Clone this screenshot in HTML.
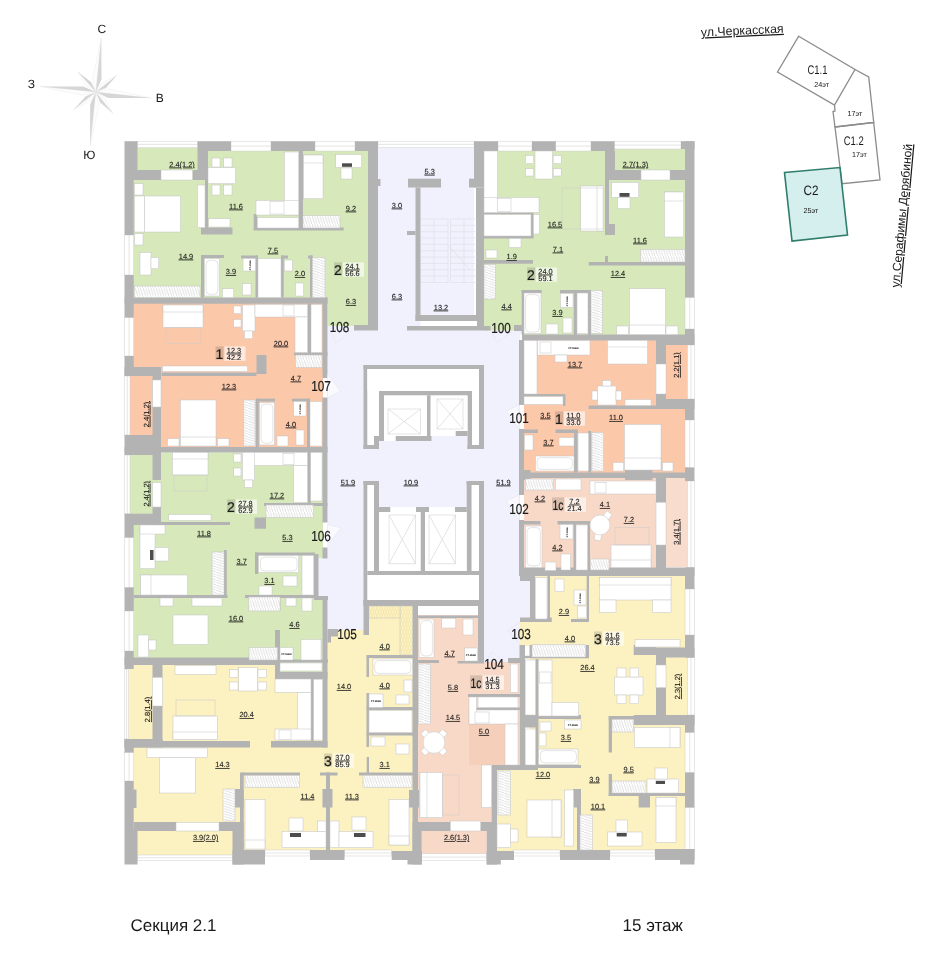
<!DOCTYPE html><html><head><meta charset="utf-8"><title>plan</title><style>
html,body{margin:0;padding:0;background:#fff;overflow:hidden}svg{display:block;filter:blur(.3px)}
text{font-family:"Liberation Sans",sans-serif;fill:#1a1a1a;text-rendering:geometricPrecision}
.w{fill:#b3b3b3}.f{fill:#fff;stroke:#c4c4c4;stroke-width:.5}.fn{fill:#fff}
.l{fill:none;stroke:#c9c9c9;stroke-width:.5}.win{fill:#fff;stroke:#cfcfcf;stroke-width:.5}
.t{font-size:7.4px;text-anchor:middle;text-decoration:underline;text-decoration-thickness:.45px;text-underline-offset:.7px;stroke:#1a1a1a;stroke-width:.1}.n{font-size:14px;text-anchor:middle;stroke:#1a1a1a;stroke-width:.2}.s{font-size:7.4px;text-anchor:middle;stroke:#1a1a1a;stroke-width:.1}.b{font-size:14px;text-anchor:middle;stroke:#1a1a1a;stroke-width:.2}
</style></head><body>
<svg width="931" height="960" viewBox="0 0 931 960">
<defs>
<pattern id="hv" width="2.6" height="8" patternUnits="userSpaceOnUse"><rect width="2.6" height="8" fill="#fff"/><path d="M0 0L2.6 8" stroke="#bdbdbd" stroke-width=".5"/></pattern>
<pattern id="hh" width="8" height="2.6" patternUnits="userSpaceOnUse"><rect width="8" height="2.6" fill="#fff"/><path d="M0 0L8 2.6" stroke="#bdbdbd" stroke-width=".5"/></pattern>
<pattern id="hy" width="2.6" height="8" patternUnits="userSpaceOnUse"><rect width="2.6" height="8" fill="#fdf4c8"/><path d="M0 0L2.6 8M2.6 0L0 8" stroke="#ecd88f" stroke-width=".45"/></pattern>
</defs>
<rect width="931" height="960" fill="#fff"/>
<g fill="#f0f1fc">
<rect x="378" y="147.5" width="96" height="182.5"/>
<rect x="327.5" y="326" width="192.5" height="336"/>
<rect x="327.5" y="615" width="38.5" height="15"/>
<rect x="484" y="326" width="39" height="8"/>
<rect x="519" y="576" width="11" height="47"/>
</g>
<g fill="#d7e9ba">
<rect x="130" y="147.5" width="238" height="155.5"/>
<rect x="327.5" y="297" width="40.5" height="29"/>
<rect x="128" y="452.5" width="195" height="212.5"/>
<rect x="275" y="630" width="52.5" height="45"/>
<rect x="484" y="147.5" width="202" height="183"/>
<rect x="523" y="330" width="163" height="6"/>
</g>
<g fill="#fbc8aa">
<rect x="128" y="303" width="195" height="145"/>
<rect x="524" y="340" width="164" height="133"/>
</g>
<g fill="#fbf1c1">
<rect x="128" y="665" width="147" height="191"/>
<rect x="275" y="678" width="138" height="178"/>
<rect x="327.5" y="630" width="85.5" height="50"/>
<rect x="368" y="606" width="45" height="26"/>
<rect x="530" y="575" width="158" height="277"/>
<rect x="520" y="622" width="11" height="24"/>
<rect x="497" y="770" width="34" height="82"/>
</g>
<g fill="#f8d8c6">
<rect x="418" y="615" width="60" height="48"/>
<rect x="418" y="662" width="74" height="161"/>
<rect x="421.7" y="829" width="65" height="26"/>
<rect x="470" y="662" width="49" height="104"/>
<rect x="524" y="477" width="133" height="95"/>
</g>
<g fill="#f8dccd">
<rect x="666" y="478" width="22" height="89"/>
</g>
<g fill="#f6cfbb">
<rect x="469" y="724" width="36" height="41"/>
</g>
<g fill="#f0f1fc">
<rect x="318" y="558" width="10" height="39"/>
</g>
<g class="win">
<rect x="124.5" y="235" width="9.2" height="40"/>
<rect x="124.5" y="317.5" width="9.2" height="38.5"/>
<rect x="124.5" y="376" width="5.5" height="59"/>
<rect x="124.5" y="455" width="5.5" height="59"/>
<rect x="124.5" y="537.5" width="9.2" height="50"/>
<rect x="124.5" y="611" width="9.2" height="40"/>
<rect x="124.5" y="669" width="4.2" height="70"/>
<rect x="124.5" y="752.5" width="9.2" height="28.5"/>
<rect x="137.5" y="141.2" width="60" height="6.3"/>
<rect x="231" y="141.2" width="40" height="9.8"/>
<rect x="315" y="141.2" width="40" height="9.8"/>
<rect x="378" y="141.2" width="96" height="6.3"/>
<rect x="498" y="141.2" width="34" height="9.8"/>
<rect x="555.7" y="141.2" width="35.3" height="9.8"/>
<rect x="614.5" y="141.2" width="66.5" height="7.8"/>
<rect x="685" y="297.5" width="9.5" height="31.5"/>
<rect x="687.5" y="345" width="7" height="54"/>
<rect x="685" y="420" width="9.5" height="47.5"/>
<rect x="687.5" y="481" width="7" height="86.5"/>
<rect x="685" y="589" width="9.5" height="46"/>
<rect x="687.5" y="657.5" width="7" height="57.5"/>
<rect x="685" y="732.5" width="9.5" height="40"/>
<rect x="685" y="807.5" width="9.5" height="42.5"/>
<rect x="137.5" y="855" width="95" height="5.5"/>
<rect x="265" y="850" width="45" height="6"/>
<rect x="344.5" y="850" width="47.2" height="6"/>
<rect x="421.7" y="853.7" width="65" height="6.8"/>
<rect x="513" y="850" width="47" height="6"/>
<rect x="610" y="850" width="45" height="6"/>
</g>
<g class="l">
<path d="M129.1 235V275"/>
<path d="M129.1 317.5V356"/>
<path d="M127.25 376V435"/>
<path d="M127.25 455V514"/>
<path d="M129.1 537.5V587.5"/>
<path d="M129.1 611V651"/>
<path d="M126.6 669V739"/>
<path d="M129.1 752.5V781"/>
<path d="M137.5 144.35H197.5"/>
<path d="M231 146.1H271"/>
<path d="M315 146.1H355"/>
<path d="M378 144.35H474"/>
<path d="M498 146.1H532"/>
<path d="M555.7 146.1H591"/>
<path d="M614.5 145.1H681"/>
<path d="M689.75 297.5V329"/>
<path d="M691 345V399"/>
<path d="M689.75 420V467.5"/>
<path d="M691 481V567.5"/>
<path d="M689.75 589V635"/>
<path d="M691 657.5V715"/>
<path d="M689.75 732.5V772.5"/>
<path d="M689.75 807.5V850"/>
<path d="M137.5 857.75H232.5"/>
<path d="M265 853H310"/>
<path d="M344.5 853H391.7"/>
<path d="M421.7 857.1H486.7"/>
<path d="M513 853H560"/>
<path d="M610 853H655"/>
</g>
<g class="w">
<rect x="124.5" y="141.2" width="13" height="28.8"/>
<rect x="124.5" y="170" width="36.5" height="10"/>
<rect x="124.5" y="180" width="9.2" height="55"/>
<rect x="124.5" y="275" width="9.2" height="42.5"/>
<rect x="124.5" y="356" width="9.2" height="20"/>
<rect x="124.5" y="367" width="36.5" height="9"/>
<rect x="124.5" y="435" width="36.5" height="20"/>
<rect x="124.5" y="513.7" width="36.5" height="11.3"/>
<rect x="124.5" y="525" width="9.2" height="12.5"/>
<rect x="124.5" y="587.5" width="9.2" height="23.5"/>
<rect x="124.5" y="651" width="9.2" height="18"/>
<rect x="124.5" y="739" width="38" height="8.5"/>
<rect x="124.5" y="739" width="9.2" height="13.5"/>
<rect x="124.5" y="781" width="9.2" height="49"/>
<rect x="133" y="789.5" width="3.5" height="18.5"/>
<rect x="124.5" y="830" width="13" height="34.5"/>
<rect x="197.5" y="141.2" width="33.5" height="9.8"/>
<rect x="197.5" y="151" width="10" height="29"/>
<rect x="192.5" y="170" width="15" height="10"/>
<rect x="271" y="141.2" width="44" height="9.8"/>
<rect x="355" y="141.2" width="23" height="9.8"/>
<rect x="474" y="141.2" width="24" height="9.8"/>
<rect x="532" y="141.2" width="23.7" height="9.8"/>
<rect x="591" y="141.2" width="23.5" height="9.8"/>
<rect x="605" y="151" width="10" height="29"/>
<rect x="681" y="141.2" width="13.5" height="7.8"/>
<rect x="685" y="141.2" width="9.5" height="156.3"/>
<rect x="685" y="329" width="9.5" height="16"/>
<rect x="685" y="399" width="9.5" height="21"/>
<rect x="685" y="467.5" width="9.5" height="13.5"/>
<rect x="685" y="567.5" width="9.5" height="21.5"/>
<rect x="685" y="635" width="9.5" height="22.5"/>
<rect x="685" y="715" width="9.5" height="17.5"/>
<rect x="685" y="772.5" width="9.5" height="35"/>
<rect x="685" y="849" width="9.5" height="11"/>
<rect x="232.5" y="850" width="32.5" height="14.5"/>
<rect x="232.5" y="831" width="11.2" height="33.5"/>
<rect x="310" y="850" width="34.5" height="10"/>
<rect x="391.7" y="851" width="30" height="9"/>
<rect x="407.5" y="851" width="14.2" height="13.5"/>
<rect x="412.5" y="822" width="9.2" height="42.5"/>
<rect x="486.7" y="851" width="27.3" height="9"/>
<rect x="486.7" y="822" width="10.3" height="42.5"/>
<rect x="486.7" y="860" width="14.1" height="4.5"/>
<rect x="560" y="850" width="50" height="10"/>
<rect x="655" y="849" width="39.5" height="11"/>
<rect x="298.7" y="151" width="4.3" height="78"/>
<rect x="253.7" y="227.5" width="90" height="3"/>
<rect x="253.7" y="214" width="3.3" height="16"/>
<rect x="201" y="227.5" width="31.5" height="7"/>
<rect x="205" y="151" width="3" height="77"/>
<rect x="201" y="255" width="3" height="42.5"/>
<rect x="201" y="255" width="23" height="3"/>
<rect x="241" y="255.5" width="16.5" height="3"/>
<rect x="255.5" y="255.5" width="2.5" height="42"/>
<rect x="281" y="255.5" width="2.7" height="42"/>
<rect x="281" y="255.5" width="7" height="3"/>
<rect x="308" y="255.5" width="4.5" height="3"/>
<rect x="310" y="255.5" width="2.5" height="42"/>
<rect x="124.5" y="297.5" width="203" height="6.2"/>
<rect x="368" y="151" width="10" height="179"/>
<rect x="354" y="325" width="24" height="5.5"/>
<rect x="378" y="179" width="2.5" height="7"/>
<rect x="322.5" y="297.5" width="5" height="28.5"/>
<rect x="408" y="178.7" width="33" height="8.8"/>
<rect x="415.5" y="187.5" width="5" height="133.5"/>
<rect x="407" y="231" width="8.5" height="4"/>
<rect x="415.5" y="315" width="62.5" height="6"/>
<rect x="407" y="326" width="83.5" height="4.5"/>
<rect x="474" y="151" width="10" height="36.5"/>
<rect x="476" y="187.5" width="8" height="142.5"/>
<rect x="469" y="178.7" width="7" height="8.8"/>
<rect x="483" y="212.5" width="50" height="2"/>
<rect x="531" y="212.5" width="2.5" height="25.5"/>
<rect x="483" y="236" width="50.5" height="2.5"/>
<rect x="483" y="260" width="50" height="3.7"/>
<rect x="521.7" y="290" width="2.3" height="45"/>
<rect x="521.7" y="290" width="20" height="3"/>
<rect x="514" y="325" width="9" height="6"/>
<rect x="522" y="334.5" width="172.5" height="6"/>
<rect x="560" y="290" width="31" height="3"/>
<rect x="573.7" y="291" width="3.3" height="44"/>
<rect x="588" y="290" width="3" height="45"/>
<rect x="588.7" y="262" width="96.3" height="3.5"/>
<rect x="605" y="256" width="3" height="6.5"/>
<rect x="605" y="151" width="4" height="84"/>
<rect x="605" y="224" width="10" height="11"/>
<rect x="615" y="170" width="26" height="10"/>
<rect x="670" y="170" width="15" height="10"/>
<rect x="124.5" y="447" width="203" height="5.5"/>
<rect x="152.5" y="376" width="8.5" height="74"/>
<rect x="161.6" y="372.6" width="94.9" height="3.4"/>
<rect x="256.5" y="355" width="10" height="19"/>
<rect x="322.5" y="326" width="5" height="52"/>
<rect x="322.5" y="397.5" width="5" height="125"/>
<rect x="322.5" y="547.5" width="5" height="11"/>
<rect x="314" y="596" width="14" height="4"/>
<rect x="256" y="398.7" width="2.7" height="48.8"/>
<rect x="256" y="398.7" width="19" height="2.8"/>
<rect x="307" y="398.7" width="3" height="48.8"/>
<rect x="292" y="398.7" width="18" height="2.8"/>
<rect x="308" y="303.7" width="3" height="49.3"/>
<rect x="294" y="352.5" width="33.5" height="3"/>
<rect x="152.5" y="452" width="8.5" height="28"/>
<rect x="152.5" y="507" width="8.5" height="18"/>
<rect x="140" y="522" width="90" height="3"/>
<rect x="307.5" y="452" width="3.2" height="52"/>
<rect x="264" y="503" width="63.5" height="3"/>
<rect x="254.5" y="517.5" width="11.5" height="11.2"/>
<rect x="255" y="552.5" width="60" height="3"/>
<rect x="255" y="552.5" width="3" height="21.5"/>
<rect x="314" y="554" width="4.5" height="44"/>
<rect x="224" y="550" width="2.7" height="48"/>
<rect x="133.7" y="595" width="93.8" height="3"/>
<rect x="245" y="595" width="71" height="3"/>
<rect x="322.5" y="600" width="5" height="79"/>
<rect x="275" y="630" width="5" height="49"/>
<rect x="275" y="672" width="52.5" height="7"/>
<rect x="124.5" y="657.5" width="155.5" height="7.5"/>
<rect x="327.5" y="630" width="3.5" height="12.5"/>
<rect x="328" y="629" width="10" height="7.5"/>
<rect x="277" y="659.5" width="51" height="3"/>
<rect x="278.3" y="598" width="2" height="13"/>
<rect x="363.5" y="365" width="120.5" height="4"/>
<rect x="363.5" y="365" width="4" height="84"/>
<rect x="479" y="365" width="5" height="84"/>
<rect x="363.5" y="445" width="15.5" height="4"/>
<rect x="374" y="436" width="5" height="13"/>
<rect x="467.5" y="445" width="16.5" height="4"/>
<rect x="379" y="391" width="93" height="4.5"/>
<rect x="379" y="391" width="5" height="50"/>
<rect x="467.5" y="391" width="4.5" height="58"/>
<rect x="426" y="395.5" width="5.5" height="45.5"/>
<rect x="379" y="369" width="3" height="22"/>
<rect x="395.5" y="436" width="35" height="5"/>
<rect x="455.5" y="431" width="12" height="5"/>
<rect x="363.5" y="481" width="15.5" height="4"/>
<rect x="363.5" y="481" width="4" height="125"/>
<rect x="374" y="481" width="5" height="91.5"/>
<rect x="466.7" y="481" width="17.3" height="4"/>
<rect x="466.7" y="481" width="5" height="94"/>
<rect x="479" y="481" width="5" height="181.5"/>
<rect x="379" y="507" width="11.5" height="5"/>
<rect x="416" y="507" width="13" height="5"/>
<rect x="420.5" y="507" width="4.5" height="64"/>
<rect x="455" y="507" width="11.7" height="5"/>
<rect x="367.5" y="571" width="113" height="4"/>
<rect x="363.5" y="600" width="120.5" height="6"/>
<rect x="363.5" y="600" width="5.5" height="35"/>
<rect x="519" y="340" width="5" height="65"/>
<rect x="519" y="429" width="5" height="66"/>
<rect x="519" y="520" width="5" height="56"/>
<rect x="524" y="470" width="6.5" height="10"/>
<rect x="524" y="472.5" width="161" height="5.5"/>
<rect x="625" y="470" width="27.5" height="10"/>
<rect x="524" y="429.5" width="14" height="3.5"/>
<rect x="555.5" y="429.5" width="22.5" height="3.5"/>
<rect x="574" y="431" width="3.5" height="41.5"/>
<rect x="588" y="431" width="3" height="41.5"/>
<rect x="588.7" y="405.5" width="96.3" height="3.5"/>
<rect x="656" y="340" width="10" height="69"/>
<rect x="656" y="340" width="38.5" height="5"/>
<rect x="656" y="399" width="38.5" height="10"/>
<rect x="524" y="394" width="41" height="2.5"/>
<rect x="563" y="394" width="2.5" height="12"/>
<rect x="524" y="521" width="16.5" height="3.5"/>
<rect x="557.5" y="521" width="32.5" height="3.5"/>
<rect x="573.5" y="522" width="2.5" height="49"/>
<rect x="587.5" y="522" width="2.5" height="49"/>
<rect x="656" y="478" width="10" height="24.5"/>
<rect x="656" y="545" width="10" height="26"/>
<rect x="520.5" y="567.5" width="174" height="8.5"/>
<rect x="530" y="576" width="5" height="46"/>
<rect x="547.5" y="576" width="2.5" height="46"/>
<rect x="520" y="617.5" width="31.7" height="4.5"/>
<rect x="571" y="619" width="18" height="3"/>
<rect x="586.7" y="576" width="2.3" height="46"/>
<rect x="585.8" y="645" width="3.2" height="13"/>
<rect x="525" y="655.8" width="64" height="2.5"/>
<rect x="519.5" y="645" width="5.5" height="125"/>
<rect x="508" y="658" width="12" height="5"/>
<rect x="529.5" y="645" width="2.5" height="12"/>
<rect x="520" y="571" width="10" height="10"/>
<rect x="535.5" y="659" width="3" height="109"/>
<rect x="535.5" y="715" width="45.5" height="4"/>
<rect x="524" y="715" width="13" height="12.5"/>
<rect x="535.5" y="765" width="45.5" height="3"/>
<rect x="491.7" y="765" width="46.3" height="5"/>
<rect x="577" y="789" width="4" height="66"/>
<rect x="573" y="789" width="8" height="18.5"/>
<rect x="608.7" y="716" width="3.3" height="36.5"/>
<rect x="608.7" y="774" width="3.3" height="22"/>
<rect x="680" y="860" width="14.5" height="4.5"/>
<rect x="608.7" y="716" width="26.3" height="3.5"/>
<rect x="608.7" y="793" width="76.3" height="3"/>
<rect x="638.7" y="793" width="11.3" height="14.5"/>
<rect x="633.7" y="645" width="22.3" height="10"/>
<rect x="656" y="647.5" width="38.5" height="10"/>
<rect x="656" y="655" width="10" height="10"/>
<rect x="656" y="687.5" width="10" height="37.5"/>
<rect x="633.7" y="715" width="60.8" height="10"/>
<rect x="412.5" y="606" width="5.5" height="249"/>
<rect x="418" y="615.5" width="60" height="2.5"/>
<rect x="409" y="790" width="10" height="17.5"/>
<rect x="478" y="606" width="6" height="56.5"/>
<rect x="418" y="660" width="21" height="3"/>
<rect x="457.5" y="661" width="26.5" height="2.5"/>
<rect x="468" y="694" width="52.5" height="3"/>
<rect x="476" y="707.5" width="44.5" height="2.5"/>
<rect x="491.7" y="765" width="5.3" height="90"/>
<rect x="489" y="790" width="8" height="17.5"/>
<rect x="418" y="822" width="32.5" height="9"/>
<rect x="480.5" y="822" width="16.5" height="9"/>
<rect x="366.7" y="655" width="46.3" height="3"/>
<rect x="366.5" y="655" width="2.5" height="22"/>
<rect x="366.5" y="693" width="2.5" height="54"/>
<rect x="366.7" y="707" width="46.3" height="3"/>
<rect x="366.7" y="732.5" width="46.3" height="3"/>
<rect x="359" y="772.5" width="54" height="3"/>
<rect x="366.7" y="757" width="2.3" height="18"/>
<rect x="152.5" y="665" width="10" height="12.5"/>
<rect x="152.5" y="706" width="10" height="36.5"/>
<rect x="124.5" y="741" width="125.5" height="6.5"/>
<rect x="271" y="741" width="56.5" height="6.5"/>
<rect x="322.5" y="679" width="5" height="68.5"/>
<rect x="311" y="679" width="2.7" height="62"/>
<rect x="133.7" y="822" width="42.3" height="9"/>
<rect x="219" y="822" width="24.7" height="9"/>
<rect x="235" y="789" width="8.7" height="18.5"/>
<rect x="240" y="772.5" width="3.7" height="82.5"/>
<rect x="242.5" y="772.5" width="57.5" height="3"/>
<rect x="326" y="772.5" width="4" height="82.5"/>
<rect x="322.5" y="789" width="10" height="18.5"/>
<rect x="320" y="772.5" width="17.5" height="3"/>
</g>
<g class="l" style="stroke:#d9d9e3">
<path d="M420.5 219H448M450.5 219H477"/>
<path d="M420.5 225.35H448M450.5 225.35H477"/>
<path d="M420.5 231.7H448M450.5 231.7H477"/>
<path d="M420.5 238.05H448M450.5 238.05H477"/>
<path d="M420.5 244.4H448M450.5 244.4H477"/>
<path d="M420.5 250.75H448M450.5 250.75H477"/>
<path d="M420.5 257.1H448M450.5 257.1H477"/>
<path d="M420.5 263.45H448M450.5 263.45H477"/>
<path d="M420.5 269.8H448M450.5 269.8H477"/>
<path d="M420.5 276.15H448M450.5 276.15H477"/>
<path d="M420.5 282.5H448M450.5 282.5H477"/>
<path d="M434 219V282.5M448 219V282.5M450.5 219V282.5M464 219V282.5M448 245L470 270"/>
</g>
<rect class="fn" x="420.5" y="321" width="56.5" height="5"/>
<g class="fn">
<rect x="367.5" y="369" width="111.5" height="22"/>
<rect x="367.5" y="369" width="11.5" height="67"/>
<rect x="367.5" y="436" width="6.5" height="9"/>
<rect x="472" y="369" width="7" height="76"/>
<rect x="384" y="395.5" width="43" height="40.5"/>
<rect x="430.5" y="395.5" width="37" height="35.5"/>
<rect x="384" y="436" width="11.5" height="5"/>
<rect x="430.5" y="431" width="25" height="5"/>
<rect x="367.5" y="485" width="6.5" height="86"/>
<rect x="471.7" y="485" width="7.3" height="86"/>
<rect x="379" y="512" width="41.5" height="59"/>
<rect x="425" y="512" width="41.7" height="59"/>
<rect x="390.5" y="507" width="25.5" height="5"/>
<rect x="429" y="507" width="26" height="5"/>
<rect x="367.5" y="575" width="111.5" height="25"/>
<rect x="418" y="606" width="60" height="9"/>
</g>
<g class="l" stroke="#bcbcbc">
<path d="M388 409H420.5V434H388ZM388 409L420.5 434M420.5 409L388 434"/>
<path d="M437 399H463V429H437ZM437 399L463 429M463 399L437 429"/>
<path d="M389 515H415.5V563.7H389ZM389 515L415.5 563.7M415.5 515L389 563.7"/>
<path d="M429 515H455.5V563.7H429ZM429 515L455.5 563.7M455.5 515L429 563.7"/>
</g>
<rect x="134.5" y="286" width="65.5" height="11.5" fill="url(#hv)" stroke="#c4c4c4" stroke-width=".5"/>
<rect x="303" y="215.5" width="37" height="12.5" fill="url(#hv)" stroke="#c4c4c4" stroke-width=".5"/>
<rect x="312.5" y="257.5" width="12.5" height="40" fill="url(#hh)" stroke="#c4c4c4" stroke-width=".5"/>
<rect x="484" y="264.5" width="11.5" height="34.5" fill="url(#hh)" stroke="#c4c4c4" stroke-width=".5"/>
<rect x="591" y="290.5" width="11.5" height="43.2" fill="url(#hh)" stroke="#c4c4c4" stroke-width=".5"/>
<rect x="640.7" y="249.5" width="44.3" height="12.5" fill="url(#hv)" stroke="#c4c4c4" stroke-width=".5"/>
<rect x="295.5" y="355" width="26.5" height="12.5" fill="url(#hv)" stroke="#c4c4c4" stroke-width=".5"/>
<rect x="243.7" y="400" width="11.3" height="46" fill="url(#hh)" stroke="#c4c4c4" stroke-width=".5"/>
<rect x="266" y="505" width="47.7" height="12.5" fill="url(#hv)" stroke="#c4c4c4" stroke-width=".5"/>
<rect x="212" y="552" width="12" height="43" fill="url(#hh)" stroke="#c4c4c4" stroke-width=".5"/>
<rect x="248.7" y="597" width="31.3" height="14" fill="url(#hv)" stroke="#c4c4c4" stroke-width=".5"/>
<rect x="249" y="647.5" width="28.5" height="12.5" fill="url(#hv)" stroke="#c4c4c4" stroke-width=".5"/>
<rect x="592" y="432.5" width="11.7" height="38.5" fill="url(#hh)" stroke="#c4c4c4" stroke-width=".5"/>
<rect x="525.5" y="479" width="27.5" height="11" fill="url(#hv)" stroke="#c4c4c4" stroke-width=".5"/>
<rect x="590.5" y="559" width="18.5" height="11" fill="url(#hv)" stroke="#c4c4c4" stroke-width=".5"/>
<rect x="245" y="775.5" width="54.5" height="12" fill="url(#hv)" stroke="#c4c4c4" stroke-width=".5"/>
<rect x="223" y="789" width="12" height="32" fill="url(#hh)" stroke="#c4c4c4" stroke-width=".5"/>
<rect x="363" y="775.5" width="49" height="12" fill="url(#hv)" stroke="#c4c4c4" stroke-width=".5"/>
<rect x="418.5" y="664" width="12" height="60" fill="url(#hh)" stroke="#c4c4c4" stroke-width=".5"/>
<rect x="532" y="644.5" width="53.5" height="12.5" fill="url(#hv)" stroke="#c4c4c4" stroke-width=".5"/>
<rect x="612" y="719.5" width="21.7" height="12.5" fill="url(#hv)" stroke="#c4c4c4" stroke-width=".5"/>
<rect x="612" y="781" width="34" height="12" fill="url(#hv)" stroke="#c4c4c4" stroke-width=".5"/>
<rect x="580" y="815" width="12.5" height="35" fill="url(#hh)" stroke="#c4c4c4" stroke-width=".5"/>
<rect x="498" y="771" width="12.5" height="44" fill="url(#hh)" stroke="#c4c4c4" stroke-width=".5"/>
<rect x="400" y="606" width="12.5" height="49" fill="url(#hy)" stroke="#c4c4c4" stroke-width=".5"/>
<rect x="369" y="606" width="31" height="12" fill="url(#hy)" stroke="#c4c4c4" stroke-width=".5"/>
<g class="f">
<rect x="161" y="170" width="31.5" height="10"/>
<rect x="144.5" y="196" width="36" height="36"/>
<rect x="134.5" y="196" width="10" height="36"/>
<rect x="134.5" y="183.7" width="8.5" height="11.3"/>
<rect x="134.5" y="233.7" width="8.5" height="11.3"/>
<rect x="140" y="252.5" width="11" height="22.5"/>
<rect x="151" y="257.5" width="7.7" height="11.2"/>
<rect x="197.5" y="185" width="7.5" height="42.5"/>
<rect x="208" y="167.5" width="27.5" height="16.2"/>
<rect x="212" y="158" width="8" height="9"/>
<rect x="223.7" y="158" width="8.3" height="9"/>
<rect x="212" y="185" width="8" height="10"/>
<rect x="223.7" y="185" width="8.3" height="10"/>
<rect x="208.7" y="218.7" width="21.3" height="8.3"/>
<rect x="284.5" y="152" width="14.2" height="63"/>
<rect x="256" y="200.5" width="42.7" height="14.5"/>
<rect x="257.5" y="217.5" width="41.2" height="10.5"/>
<rect x="270" y="201.5" width="14" height="12.5"/>
<rect x="303.7" y="155" width="19.3" height="43.7"/>
<rect x="303.7" y="155" width="19.3" height="8"/>
<rect x="335.7" y="154.5" width="26" height="13"/>
<rect x="341" y="168" width="11" height="11"/>
<rect x="204.5" y="258.7" width="15" height="37.3"/>
<rect x="222.5" y="288.7" width="11.2" height="8.8"/>
<rect x="242.5" y="283.7" width="8.5" height="11.3"/>
<rect x="243" y="258.5" width="12.5" height="12.5"/>
<rect x="284.5" y="260" width="8" height="11"/>
<rect x="295.5" y="283" width="8.2" height="13"/>
<rect x="258" y="258.5" width="23" height="39"/>
<rect x="163" y="305" width="40" height="22.5"/>
<rect x="163" y="305" width="40" height="7"/>
<rect x="242.5" y="305" width="12.5" height="26"/>
<rect x="233.7" y="306" width="7.3" height="7.7"/>
<rect x="233.7" y="319.5" width="7.3" height="7.5"/>
<rect x="244.5" y="331" width="8" height="7.7"/>
<rect x="255" y="304.5" width="52.5" height="12.5"/>
<rect x="295" y="317" width="12.5" height="35.5"/>
<rect x="311" y="304.5" width="11" height="48"/>
<rect x="162.5" y="366" width="85" height="5.5"/>
<rect x="283" y="305" width="11" height="11"/>
<rect x="180.5" y="400" width="35.5" height="46"/>
<rect x="180.5" y="437" width="35.5" height="9"/>
<rect x="167.5" y="438.7" width="11.5" height="7.3"/>
<rect x="217.5" y="438.7" width="11.5" height="7.3"/>
<rect x="259.5" y="402.5" width="15" height="42.5"/>
<rect x="293.7" y="401.5" width="12.3" height="14.5"/>
<rect x="310" y="401.5" width="12" height="44.5"/>
<rect x="277" y="436" width="11" height="10"/>
<rect x="296" y="430" width="8" height="15"/>
<rect x="152.5" y="380" width="8.5" height="27"/>
<rect x="172.5" y="452.5" width="35.5" height="22.5"/>
<rect x="172.5" y="452.5" width="35.5" height="6.5"/>
<rect x="242.5" y="452.5" width="65" height="13"/>
<rect x="242.5" y="452.5" width="12" height="27.5"/>
<rect x="244.5" y="480" width="8" height="7.5"/>
<rect x="233.7" y="454" width="7.3" height="8"/>
<rect x="233.7" y="468" width="7.3" height="8"/>
<rect x="293.7" y="465.5" width="13.8" height="37"/>
<rect x="310.7" y="452.5" width="11.3" height="48.5"/>
<rect x="283" y="453.5" width="11" height="11"/>
<rect x="168.7" y="514.5" width="42.3" height="6"/>
<rect x="152.5" y="482.5" width="8.5" height="24.5"/>
<rect x="140" y="525" width="15" height="43.7"/>
<rect x="140" y="525" width="25" height="9"/>
<rect x="155" y="547.5" width="13.7" height="13.5"/>
<rect x="140.7" y="575" width="46.8" height="20"/>
<rect x="140.7" y="575" width="10.3" height="20"/>
<rect x="258.7" y="555.5" width="40" height="17"/>
<rect x="302" y="555.5" width="11.7" height="39.5"/>
<rect x="283" y="576" width="14" height="10"/>
<rect x="259" y="586" width="13" height="9"/>
<rect x="173" y="615" width="35" height="29.5"/>
<rect x="160" y="598" width="13" height="8"/>
<rect x="192" y="598" width="30" height="8"/>
<rect x="138" y="635" width="10.7" height="22"/>
<rect x="148.7" y="640" width="7.3" height="10"/>
<rect x="301" y="639.5" width="20" height="20.5"/>
<rect x="280" y="647.5" width="13" height="12.5"/>
<rect x="280" y="663" width="42" height="8"/>
<rect x="286" y="598" width="10" height="8"/>
<rect x="302" y="598" width="10" height="13"/>
<rect x="484" y="151" width="13.5" height="61.5"/>
<rect x="484" y="197.5" width="55" height="15"/>
<rect x="484" y="214.5" width="47" height="21.5"/>
<rect x="533.5" y="214.5" width="6" height="19.5"/>
<rect x="497.5" y="198.5" width="13.5" height="13"/>
<rect x="535" y="151" width="17.5" height="28"/>
<rect x="525.5" y="155.5" width="8.2" height="8.2"/>
<rect x="525.5" y="168.7" width="8.2" height="7.3"/>
<rect x="553.2" y="155.5" width="8" height="8.2"/>
<rect x="553.2" y="168.7" width="8" height="7.3"/>
<rect x="580.7" y="186" width="23" height="45"/>
<rect x="597" y="186" width="6.7" height="45"/>
<rect x="611.7" y="182.5" width="27" height="15"/>
<rect x="617.5" y="197.5" width="12.5" height="11.2"/>
<rect x="664.5" y="192" width="19.2" height="45"/>
<rect x="664.5" y="192" width="19.2" height="9"/>
<rect x="641" y="170" width="29" height="10"/>
<rect x="629.5" y="288.7" width="36" height="45.8"/>
<rect x="629.5" y="325" width="36" height="9.5"/>
<rect x="616.7" y="326" width="12" height="8.5"/>
<rect x="666" y="326" width="12" height="8.5"/>
<rect x="524" y="293" width="17" height="40.7"/>
<rect x="560.5" y="293.7" width="12.5" height="13.8"/>
<rect x="577" y="293" width="11" height="40.7"/>
<rect x="509" y="238.5" width="12" height="9"/>
<rect x="486" y="250" width="11" height="8"/>
<rect x="546" y="324" width="12" height="10"/>
<rect x="563" y="318" width="9" height="15"/>
<rect x="524" y="340.5" width="13" height="53.5"/>
<rect x="537.5" y="340.5" width="52.5" height="14.5"/>
<rect x="540" y="342" width="11" height="11"/>
<rect x="555" y="355" width="12" height="7"/>
<rect x="524" y="396.5" width="39" height="8"/>
<rect x="607.5" y="340.5" width="40" height="23.5"/>
<rect x="607.5" y="340.5" width="40" height="6.5"/>
<rect x="597.5" y="386" width="18.5" height="19"/>
<rect x="592" y="391" width="5.5" height="9"/>
<rect x="616" y="391" width="5.5" height="9"/>
<rect x="602.5" y="380.5" width="8.5" height="5.5"/>
<rect x="625" y="399.5" width="26" height="6"/>
<rect x="624.5" y="424.5" width="36.5" height="45.5"/>
<rect x="624.5" y="458" width="36.5" height="12"/>
<rect x="613" y="462.5" width="10.7" height="8.5"/>
<rect x="662.5" y="462.5" width="10.5" height="8.5"/>
<rect x="578" y="433" width="10.7" height="38"/>
<rect x="535.5" y="456" width="38.5" height="15"/>
<rect x="524.5" y="435" width="8.5" height="15"/>
<rect x="559" y="437.5" width="15" height="8.5"/>
<rect x="656" y="364" width="10" height="30"/>
<rect x="555.5" y="479" width="25.5" height="11"/>
<rect x="590" y="481" width="66" height="13"/>
<rect x="595" y="482.5" width="11" height="10.5"/>
<rect x="525.5" y="526" width="16.5" height="41.5"/>
<rect x="560" y="524.5" width="13" height="14.5"/>
<rect x="576" y="525" width="11.5" height="45"/>
<rect x="561" y="554" width="9.5" height="16"/>
<rect x="545" y="562" width="11" height="8.5"/>
<rect x="611" y="545" width="40" height="22.5"/>
<rect x="611" y="560" width="40" height="7.5"/>
<rect x="656" y="502.5" width="10" height="42.5"/>
<rect x="535.5" y="577.5" width="11.5" height="41.5"/>
<rect x="555" y="579" width="9" height="12.7"/>
<rect x="574" y="590" width="12" height="15"/>
<rect x="577.5" y="606" width="9.2" height="12"/>
<rect x="599.5" y="577.5" width="71.5" height="22.5"/>
<rect x="599.5" y="577.5" width="71.5" height="7.5"/>
<rect x="599.5" y="600" width="16.5" height="12.5"/>
<rect x="652.5" y="600" width="18.5" height="12.5"/>
<rect x="635" y="639.5" width="45" height="7.5"/>
<rect x="614.5" y="677" width="28.5" height="18"/>
<rect x="617" y="668" width="9" height="9"/>
<rect x="630" y="668" width="8.7" height="9"/>
<rect x="617" y="695" width="9" height="8.7"/>
<rect x="630" y="695" width="8.7" height="8.7"/>
<rect x="525.5" y="660" width="10" height="55"/>
<rect x="538.5" y="660" width="13.5" height="56"/>
<rect x="552" y="702.5" width="26.7" height="13.5"/>
<rect x="539.5" y="672" width="11.5" height="11"/>
<rect x="525.5" y="729" width="10" height="36"/>
<rect x="538.7" y="749" width="39.3" height="15.5"/>
<rect x="564.5" y="720" width="16.5" height="9"/>
<rect x="540" y="722" width="11" height="9"/>
<rect x="539" y="733" width="7" height="13"/>
<rect x="634.5" y="727.5" width="45.5" height="20"/>
<rect x="670" y="727.5" width="10" height="20"/>
<rect x="647" y="779" width="31.7" height="14"/>
<rect x="655" y="768" width="12.5" height="11"/>
<rect x="656" y="797.5" width="20" height="45"/>
<rect x="656" y="797.5" width="20" height="8.5"/>
<rect x="607.5" y="832" width="34.5" height="14"/>
<rect x="616" y="820" width="11.5" height="12"/>
<rect x="527" y="800" width="34" height="37"/>
<rect x="552" y="800" width="9" height="37"/>
<rect x="564.5" y="790" width="9.2" height="56"/>
<rect x="497" y="824" width="13.5" height="23.5"/>
<rect x="510.5" y="829" width="7.5" height="13"/>
<rect x="656" y="665" width="10" height="22.5"/>
<rect x="419" y="619" width="15" height="38.5"/>
<rect x="441.7" y="618.5" width="14.1" height="9.5"/>
<rect x="463" y="619" width="10" height="16"/>
<rect x="464.7" y="648" width="12.8" height="13"/>
<rect x="510.5" y="664" width="7.5" height="28.5"/>
<rect x="478" y="697" width="40" height="10.5"/>
<rect x="469" y="710" width="49" height="14"/>
<rect x="469" y="697" width="7.5" height="27"/>
<rect x="505" y="724" width="13" height="41"/>
<rect x="475" y="712" width="14" height="11"/>
<rect x="420" y="772.5" width="22.5" height="45"/>
<rect x="420" y="772.5" width="7" height="45"/>
<rect x="481.7" y="765" width="10" height="42.5"/>
<rect x="450.5" y="821" width="30" height="10"/>
<rect x="373" y="659" width="39.5" height="16"/>
<rect x="369" y="694" width="14" height="13.5"/>
<rect x="369" y="710.5" width="43" height="22"/>
<rect x="404" y="680" width="8" height="12"/>
<rect x="396" y="695" width="13" height="9"/>
<rect x="371" y="737" width="14" height="9"/>
<rect x="396" y="744" width="13" height="10"/>
<rect x="238.7" y="667.5" width="18.8" height="23.5"/>
<rect x="229.5" y="669.5" width="8.5" height="8"/>
<rect x="229.5" y="682" width="8.5" height="8"/>
<rect x="258" y="669.5" width="8.5" height="8"/>
<rect x="258" y="682" width="8.5" height="8"/>
<rect x="175" y="665.7" width="41" height="8.8"/>
<rect x="173" y="716" width="44.5" height="23.5"/>
<rect x="173" y="732" width="44.5" height="7.5"/>
<rect x="275" y="679" width="36" height="13.5"/>
<rect x="297.5" y="692.5" width="13.5" height="47.5"/>
<rect x="275" y="729" width="36" height="11"/>
<rect x="279" y="730" width="12" height="9.5"/>
<rect x="313.7" y="679.5" width="8.8" height="60.5"/>
<rect x="152.5" y="677.5" width="10" height="28.5"/>
<rect x="159.5" y="757.5" width="36" height="35.5"/>
<rect x="147" y="748" width="60.5" height="9.5"/>
<rect x="176" y="822.5" width="43" height="8.5"/>
<rect x="245" y="799.5" width="20" height="49.5"/>
<rect x="245" y="840" width="20" height="9"/>
<rect x="282" y="831.5" width="44" height="16"/>
<rect x="317.7" y="821" width="8.3" height="10.5"/>
<rect x="289" y="818" width="14" height="13"/>
<rect x="389" y="799.5" width="20" height="45.5"/>
<rect x="389" y="836" width="20" height="9"/>
<rect x="330" y="821" width="9" height="26.5"/>
<rect x="339" y="831.5" width="34" height="16"/>
<rect x="352" y="817" width="14" height="13"/>
<rect x="-3.3" y="-15.5" width="6.6" height="6.5" rx="1" transform="translate(434 742.5) rotate(45)"/>
<rect x="-3.3" y="-15.5" width="6.6" height="6.5" rx="1" transform="translate(434 742.5) rotate(135)"/>
<rect x="-3.3" y="-15.5" width="6.6" height="6.5" rx="1" transform="translate(434 742.5) rotate(225)"/>
<rect x="-3.3" y="-15.5" width="6.6" height="6.5" rx="1" transform="translate(434 742.5) rotate(315)"/>
<rect x="-3.3" y="-15.5" width="6.6" height="6.5" rx="1" transform="translate(600 525) rotate(38)"/>
<rect x="-3.3" y="-15.5" width="6.6" height="6.5" rx="1" transform="translate(600 525) rotate(190)"/>
<circle cx="600" cy="525" r="10"/><circle cx="434" cy="742.5" r="10.8"/>
</g>
<g fill="#4d4d4d">
<rect x="342" y="163.3" width="10" height="3.5"/>
<rect x="619.5" y="193" width="10" height="3.8"/>
<rect x="150" y="550" width="3.5" height="10"/>
<rect x="290" y="833" width="11" height="4"/>
<rect x="354" y="833" width="11.5" height="4"/>
<rect x="655.8" y="780.8" width="9.2" height="3.2"/>
<rect x="616.7" y="833" width="10" height="3.5"/>
</g>
<g style="font-size:3.1px;font-weight:bold;text-anchor:middle">
<text transform="translate(249.5 265) rotate(-90)" y="1">ст.маш</text>
<text transform="translate(567 301) rotate(-90)" y="1">ст.маш</text>
<text transform="translate(300 409) rotate(-90)" y="1">ст.маш</text>
<text x="573.5" y="349">ст.маш</text>
<text transform="translate(566.5 532) rotate(-90)" y="1">ст.маш</text>
<text transform="translate(580 598) rotate(-90)" y="1">ст.маш</text>
<text x="573" y="725.5">ст.маш</text>
<text x="471" y="655.5">ст.маш</text>
<text x="376" y="702">ст.маш</text>
<text x="286.5" y="655">ст.маш</text>
</g>
<g class="l">
<rect x="206.1" y="260.3" width="11.8" height="34.1" rx="4"/>
<rect x="261.1" y="404.1" width="11.8" height="39.3" rx="4"/>
<rect x="260.3" y="557.1" width="36.8" height="13.8" rx="4"/>
<rect x="525.6" y="294.6" width="13.8" height="37.5" rx="4"/>
<rect x="537.1" y="457.6" width="35.3" height="11.8" rx="4"/>
<rect x="527.1" y="527.6" width="13.3" height="38.3" rx="4"/>
<rect x="540.3" y="750.6" width="36.1" height="12.3" rx="4"/>
<rect x="420.6" y="620.6" width="11.8" height="35.3" rx="4"/>
<rect x="374.6" y="660.6" width="36.3" height="12.8" rx="4"/>
</g>
<g class="l">
<rect x="166" y="327.5" width="35" height="16.2"/>
<rect x="174" y="475" width="33" height="16"/>
<rect x="176" y="700" width="39" height="16"/>
<rect x="562" y="188" width="41" height="41"/>
<rect x="615" y="527.5" width="34" height="17.5"/>
<rect x="442.5" y="775" width="16.5" height="40"/>
</g>
<g fill="#f9f9fe" stroke="#dedee8" stroke-width=".4">
<polygon points="327.5,374 340.6,391 327.5,398"/>
<polygon points="327.5,524.6 341,527.7 328,545.4"/>
<polygon points="519,405 506.5,411 519,429"/>
<polygon points="519,495 506.5,501 519,520"/>
<polyline points="330,330.5 336,343 352,330.5" fill="none"/>
<polyline points="491,330.5 497,343 513,330.5" fill="none"/>
<polyline points="520,622.5 508,630 520,645" fill="none"/>
<polyline points="486,663.5 492,652 507,663.5" fill="none"/>
</g>
<text class="t" x="182" y="166.5">2.4(1.2)</text>
<text class="t" x="236" y="208.5">11.6</text>
<text class="t" x="186" y="258.5">14.9</text>
<text class="t" x="273" y="252.5">7.5</text>
<text class="t" x="231" y="274">3.9</text>
<text class="t" x="300" y="276">2.0</text>
<text class="t" x="351" y="210.5">9.2</text>
<text class="t" x="351" y="304">6.3</text>
<text class="t" x="397" y="207.5">3.0</text>
<text class="t" x="397" y="298.5">6.3</text>
<text class="t" x="429.7" y="173.7">5.3</text>
<text class="t" x="441" y="309.5">13.2</text>
<text class="t" x="555" y="226.5">16.5</text>
<text class="t" x="558" y="251.5">7.1</text>
<text class="t" x="511.7" y="259">1.9</text>
<text class="t" x="506.7" y="308.5">4.4</text>
<text class="t" x="557.5" y="315">3.9</text>
<text class="t" x="635.5" y="166.5">2.7(1.3)</text>
<text class="t" x="640" y="242.5">11.6</text>
<text class="t" x="618" y="276">12.4</text>
<text class="t" x="281" y="345.5">20.0</text>
<text class="t" x="229" y="388.5">12.3</text>
<text class="t" x="296" y="380.5">4.7</text>
<text class="t" x="291" y="426.5">4.0</text>
<text class="t" x="277" y="497.5">17.2</text>
<text class="t" x="204" y="535.5">11.8</text>
<text class="t" x="287.5" y="540">5.3</text>
<text class="t" x="241.7" y="563.5">3.7</text>
<text class="t" x="269.5" y="583">3.1</text>
<text class="t" x="236" y="620.5">16.0</text>
<text class="t" x="294.5" y="627">4.6</text>
<text class="t" x="348" y="484.5">51.9</text>
<text class="t" x="411" y="484.5">10.9</text>
<text class="t" x="503.5" y="484.5">51.9</text>
<text class="t" x="575" y="366.5">13.7</text>
<text class="t" x="545.5" y="417.5">3.5</text>
<text class="t" x="548.5" y="444.5">3.7</text>
<text class="t" x="616" y="420">11.0</text>
<text class="t" x="540" y="500.5">4.2</text>
<text class="t" x="557.5" y="549.5">4.2</text>
<text class="t" x="605" y="507">4.1</text>
<text class="t" x="629" y="522">7.2</text>
<text class="t" x="564" y="614">2.9</text>
<text class="t" x="570" y="640.5">4.0</text>
<text class="t" x="587.5" y="670">26.4</text>
<text class="t" x="566" y="740">3.5</text>
<text class="t" x="628.7" y="771.5">9.5</text>
<text class="t" x="594.5" y="781.5">3.9</text>
<text class="t" x="598" y="808.5">10.1</text>
<text class="t" x="543" y="777">12.0</text>
<text class="t" x="449.7" y="655.5">4.7</text>
<text class="t" x="453" y="690">5.8</text>
<text class="t" x="453" y="720">14.5</text>
<text class="t" x="484" y="734">5.0</text>
<text class="t" x="456.7" y="840">2.6(1.3)</text>
<text class="t" x="384.7" y="648.5">4.0</text>
<text class="t" x="384.7" y="687.5">4.0</text>
<text class="t" x="384.7" y="767">3.1</text>
<text class="t" x="352" y="798.5">11.3</text>
<text class="t" x="307.5" y="798.5">11.4</text>
<text class="t" x="222.5" y="767">14.3</text>
<text class="t" x="246.7" y="717">20.4</text>
<text class="t" x="205.7" y="840">3.9(2.0)</text>
<text class="t" x="344" y="689">14.0</text>
<text class="t" transform="translate(148.7 414.4) rotate(-90)">2.4(1.2)</text>
<text class="t" transform="translate(148.7 493.7) rotate(-90)">2.4(1.2)</text>
<text class="t" transform="translate(150 709.4) rotate(-90)">2.8(1.4)</text>
<text class="t" transform="translate(679 365) rotate(-90)">2.2(1.1)</text>
<text class="t" transform="translate(678.7 532) rotate(-90)">3.4(1.7)</text>
<text class="t" transform="translate(680 686.5) rotate(-90)">2.3(1.2)</text>
<text class="n" x="339.5" y="331.5" textLength="19.6" lengthAdjust="spacingAndGlyphs" style="font-size:14.4px">108</text>
<text class="n" x="501" y="332.5" textLength="19.6" lengthAdjust="spacingAndGlyphs" style="font-size:14.4px">100</text>
<text class="n" x="321" y="391" textLength="19.6" lengthAdjust="spacingAndGlyphs" style="font-size:14.4px">107</text>
<text class="n" x="321" y="541" textLength="19.6" lengthAdjust="spacingAndGlyphs" style="font-size:14.4px">106</text>
<text class="n" x="347" y="639" textLength="19.6" lengthAdjust="spacingAndGlyphs" style="font-size:14.4px">105</text>
<text class="n" x="494" y="669" textLength="19.6" lengthAdjust="spacingAndGlyphs" style="font-size:14.4px">104</text>
<text class="n" x="521" y="639" textLength="19.6" lengthAdjust="spacingAndGlyphs" style="font-size:14.4px">103</text>
<text class="n" x="519" y="514" textLength="19.6" lengthAdjust="spacingAndGlyphs" style="font-size:14.4px">102</text>
<text class="n" x="519" y="422.5" textLength="19.6" lengthAdjust="spacingAndGlyphs" style="font-size:14.4px">101</text>
<rect x="334" y="262.4" width="8" height="13.2" fill="#000" opacity=".13"/>
<rect x="343" y="262.4" width="21" height="14.4" fill="#fff" opacity=".6"/>
<text class="b" x="338" y="275">2</text>
<text class="t" x="352.5" y="268.6">24.1</text>
<text class="s" x="352.5" y="275.9">56.6</text>
<rect x="527" y="267.4" width="8" height="13.2" fill="#000" opacity=".13"/>
<rect x="536" y="267.4" width="21" height="14.4" fill="#fff" opacity=".6"/>
<text class="b" x="531" y="280">2</text>
<text class="t" x="545.5" y="273.6">24.0</text>
<text class="s" x="545.5" y="280.9">59.1</text>
<rect x="215.5" y="346.4" width="8" height="13.2" fill="#000" opacity=".13"/>
<rect x="224.5" y="346.4" width="21" height="14.4" fill="#fff" opacity=".6"/>
<text class="b" x="219.5" y="359">1</text>
<text class="t" x="234" y="352.6">12.3</text>
<text class="s" x="234" y="359.9">42.2</text>
<rect x="227" y="499.4" width="8" height="13.2" fill="#000" opacity=".13"/>
<rect x="236" y="499.4" width="21" height="14.4" fill="#fff" opacity=".6"/>
<text class="b" x="231" y="512">2</text>
<text class="t" x="245.5" y="505.6">27.8</text>
<text class="s" x="245.5" y="512.9">62.9</text>
<rect x="555" y="411.4" width="8" height="13.2" fill="#000" opacity=".13"/>
<rect x="564" y="411.4" width="21" height="14.4" fill="#fff" opacity=".6"/>
<text class="b" x="559" y="424">1</text>
<text class="t" x="573.5" y="417.6">11.0</text>
<text class="s" x="573.5" y="424.9">33.0</text>
<rect x="552" y="497.4" width="12" height="13.2" fill="#000" opacity=".13"/>
<rect x="565" y="497.4" width="21" height="14.4" fill="#fff" opacity=".6"/>
<text class="b" x="558" y="510" textLength="11" lengthAdjust="spacingAndGlyphs">1c</text>
<text class="t" x="574.5" y="503.6">7.2</text>
<text class="s" x="574.5" y="510.9">21.4</text>
<rect x="594" y="631.4" width="8" height="13.2" fill="#000" opacity=".13"/>
<rect x="603" y="631.4" width="21" height="14.4" fill="#fff" opacity=".6"/>
<text class="b" x="598" y="644">3</text>
<text class="t" x="612.5" y="637.6">31.6</text>
<text class="s" x="612.5" y="644.9">73.5</text>
<rect x="470" y="675.4" width="12" height="13.2" fill="#000" opacity=".13"/>
<rect x="483" y="675.4" width="21" height="14.4" fill="#fff" opacity=".6"/>
<text class="b" x="476" y="688" textLength="11" lengthAdjust="spacingAndGlyphs">1c</text>
<text class="t" x="492.5" y="681.6">14.5</text>
<text class="s" x="492.5" y="688.9">31.3</text>
<rect x="324" y="753.4" width="8" height="13.2" fill="#000" opacity=".13"/>
<rect x="333" y="753.4" width="21" height="14.4" fill="#fff" opacity=".6"/>
<text class="b" x="328" y="766">3</text>
<text class="t" x="342.5" y="759.6">37.0</text>
<text class="s" x="342.5" y="766.9">85.9</text>
<text class="x" x="130.5" y="930.7" style="font-size:17px">Секция 2.1</text>
<text class="x" x="622.6" y="930.7" style="font-size:17px">15 этаж</text>
<g>
<path d="M95.8 92.1L102.1 83.1L116.9 75.2Z" fill="#fdfdfd" stroke="#e6e6e6" stroke-width=".35"/>
<path d="M95.8 92.1L105.9 88.0L116.9 75.2Z" fill="#d6d6d6"/>
<path d="M95.8 92.1L86.5 86.3L77.7 71.5Z" fill="#fdfdfd" stroke="#e6e6e6" stroke-width=".35"/>
<path d="M95.8 92.1L91.2 82.2L77.7 71.5Z" fill="#d6d6d6"/>
<path d="M95.8 92.1L89.5 101.1L73.8 109.6Z" fill="#fdfdfd" stroke="#e6e6e6" stroke-width=".35"/>
<path d="M95.8 92.1L85.7 96.2L73.8 109.6Z" fill="#d6d6d6"/>
<path d="M95.8 92.1L104.8 98.3L112.9 113.4Z" fill="#fdfdfd" stroke="#e6e6e6" stroke-width=".35"/>
<path d="M95.8 92.1L100.0 102.2L112.9 113.4Z" fill="#d6d6d6"/>
<path d="M95.8 92.1L92.7 78.7L101.3 37.6Z" fill="#fdfdfd" stroke="#e6e6e6" stroke-width=".35"/>
<path d="M95.8 92.1L101.5 79.6L101.3 37.6Z" fill="#d6d6d6"/>
<path d="M95.8 92.1L98.8 105.5L90.2 145.3Z" fill="#fdfdfd" stroke="#e6e6e6" stroke-width=".35"/>
<path d="M95.8 92.1L90.1 104.6L90.2 145.3Z" fill="#d6d6d6"/>
<path d="M95.8 92.1L109.2 89.1L151.1 98Z" fill="#fdfdfd" stroke="#e6e6e6" stroke-width=".35"/>
<path d="M95.8 92.1L108.3 97.9L151.1 98Z" fill="#d6d6d6"/>
<path d="M95.8 92.1L82.4 95.2L40 86.4Z" fill="#fdfdfd" stroke="#e6e6e6" stroke-width=".35"/>
<path d="M95.8 92.1L83.3 86.4L40 86.4Z" fill="#d6d6d6"/>
<text x="101.8" y="32.8" style="font-size:12px;text-anchor:middle">С</text>
<text x="31.3" y="88.4" style="font-size:12px;text-anchor:middle">З</text>
<text x="159.8" y="102" style="font-size:12px;text-anchor:middle">В</text>
<text x="89.3" y="159.4" style="font-size:12px;text-anchor:middle">Ю</text>
</g>
<g fill="none" stroke="#8c8c8c" stroke-width="1.3">
<path d="M798.7 36.2L855 69.5L834.5 105L777.5 72Z"/>
<path d="M855 69.5L868.7 77L873.7 122.5L835 127L833 111.5L835 111L834.5 105"/>
<path d="M835 127L873.7 122.5L880 180L842 183.7Z"/>
</g>
<path d="M784.5 172.5L840 167.5L847.5 235L792 241Z" fill="#d4efee" stroke="#2f7d6b" stroke-width="1.6"/>
<text x="817.5" y="73.5" style="font-size:12.5px;text-anchor:middle" textLength="20" lengthAdjust="spacingAndGlyphs">С1.1</text>
<text x="821.7" y="86.5" style="font-size:7.2px;text-anchor:middle">24эт</text>
<text x="855" y="116" style="font-size:7.2px;text-anchor:middle">17эт</text>
<text x="853.7" y="145" style="font-size:12.5px;text-anchor:middle" textLength="20" lengthAdjust="spacingAndGlyphs">С1.2</text>
<text x="859.5" y="157" style="font-size:7.2px;text-anchor:middle">17эт</text>
<text x="811" y="194.5" style="font-size:13.5px;text-anchor:middle" textLength="15" lengthAdjust="spacingAndGlyphs">С2</text>
<text x="811" y="213" style="font-size:7.2px;text-anchor:middle">25эт</text>
<text transform="translate(701 36.5) rotate(-2.6)" style="font-size:12.4px;text-decoration:underline">ул.Черкасская</text>
<text transform="translate(899.3 287.7) rotate(-84.84)" style="font-size:12.1px;text-decoration:underline">ул.Серафимы Дерябиной</text>
</svg></body></html>
